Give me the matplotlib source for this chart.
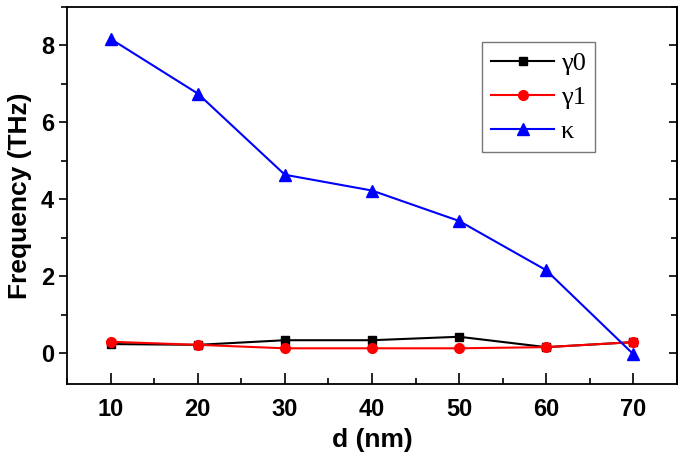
import matplotlib.pyplot as plt
from matplotlib.ticker import MultipleLocator

# Толщина слоя, нм
d = [10, 20, 30, 40, 50, 60, 70]

# Частоты, ТГц
gamma0 = [0.24, 0.22, 0.34, 0.34, 0.43, 0.16, 0.29]
gamma1 = [0.30, 0.22, 0.13, 0.13, 0.13, 0.16, 0.29]
kappa = [8.17, 6.75, 4.64, 4.23, 3.44, 2.16, -0.02]

if __name__ == '__main__':
    plt.rcParams['font.family'] = ['Liberation Sans', 'DejaVu Sans']

    fig = plt.figure(figsize=(6.85, 4.65), dpi=100)
    ax = fig.add_axes([0.098, 0.174, 0.89, 0.811])

    ax.plot(d, gamma0, '-s', color='black', lw=1.5, ms=6, label='γ0')
    ax.plot(d, gamma1, '-o', color='red', lw=1.5, ms=7, label='γ1')
    ax.plot(d, kappa, '-^', color='blue', lw=1.5, ms=8, label='κ')

    ax.set_xlim(5, 75)
    ax.set_ylim(-0.8, 9.0)
    ax.xaxis.set_major_locator(MultipleLocator(10))
    ax.xaxis.set_minor_locator(MultipleLocator(5))
    ax.yaxis.set_major_locator(MultipleLocator(2))
    ax.yaxis.set_minor_locator(MultipleLocator(1))

    ax.tick_params(axis='x', which='major', direction='in', length=8, width=1.2, pad=10)
    ax.tick_params(axis='x', which='minor', direction='in', length=4, width=1.2)
    ax.tick_params(axis='y', which='major', direction='out', length=6, width=1.2)
    ax.tick_params(axis='y', which='minor', direction='out', length=4, width=1.2)
    ax.tick_params(labelsize=17)
    for lbl in ax.get_xticklabels() + ax.get_yticklabels():
        lbl.set_fontweight('bold')

    # Правая ось: только засечки внутрь
    ax2 = ax.secondary_yaxis('right')
    ax2.yaxis.set_major_locator(MultipleLocator(2))
    ax2.yaxis.set_minor_locator(MultipleLocator(1))
    ax2.tick_params(which='major', direction='in', length=6, width=1.2, labelright=False)
    ax2.tick_params(which='minor', direction='in', length=4, width=1.2)

    for sp in ax.spines.values():
        sp.set_linewidth(1.3)
    ax2.spines['right'].set_linewidth(1.3)

    ax.set_xlabel('d (nm)', fontsize=19, fontweight='bold', labelpad=5)
    ax.set_ylabel('Frequency (THz)', fontsize=19, fontweight='bold', labelpad=6)

    leg = ax.legend(loc='upper left', bbox_to_anchor=(0.68, 0.907),
                    prop={'family': 'Liberation Serif', 'size': 19},
                    fancybox=False, edgecolor='#555555', handlelength=2.4,
                    handletextpad=0.25, borderpad=0.35, borderaxespad=0,
                    labelspacing=0.4)
    leg.get_frame().set_linewidth(1.0)

    plt.savefig('out.png', dpi=100)
